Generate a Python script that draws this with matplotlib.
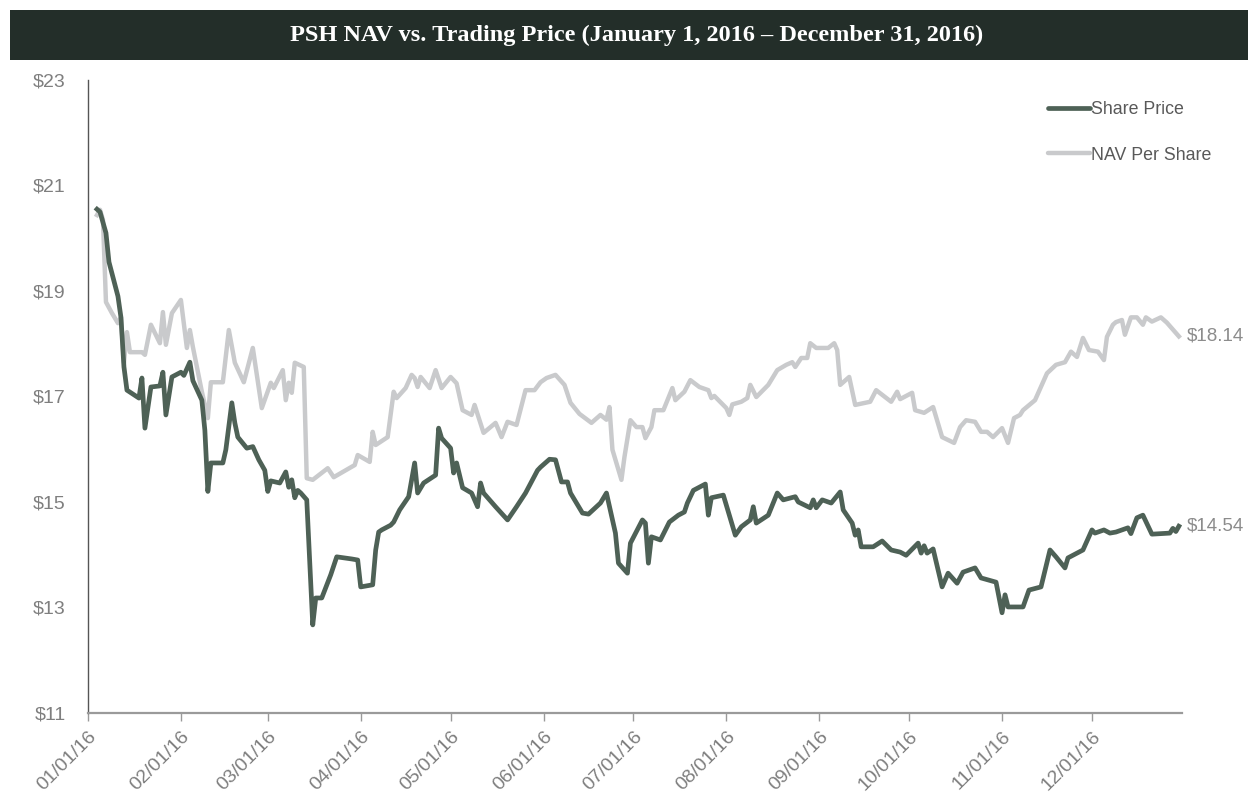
import matplotlib.pyplot as plt
import matplotlib.dates as mdates
import pandas as pd
from matplotlib.patches import Rectangle

plt.rcParams["font.family"] = ["Liberation Sans", "DejaVu Sans"]

# values
price_dates = [
    "01-04", "01-05", "01-07", "01-08", "01-11", "01-12", "01-13", "01-14", "01-18", "01-19",
    "01-20", "01-22", "01-25", "01-26", "01-27", "01-29", "02-01", "02-02", "02-04", "02-05",
    "02-08", "02-09", "02-10", "02-11", "02-15", "02-16", "02-18", "02-19", "02-20", "02-23",
    "02-25", "02-27", "02-29", "03-01", "03-02", "03-05", "03-07", "03-08", "03-09", "03-10",
    "03-11", "03-12", "03-14", "03-15", "03-16", "03-17", "03-19", "03-22", "03-24", "03-29",
    "03-31", "04-01", "04-05", "04-06", "04-07", "04-08", "04-11", "04-12", "04-14", "04-17",
    "04-19", "04-20", "04-22", "04-26", "04-27", "04-28", "05-01", "05-02", "05-03", "05-05",
    "05-08", "05-10", "05-11", "05-12", "05-16", "05-20", "05-23", "05-26", "05-30", "05-31",
    "06-03", "06-05", "06-07", "06-09", "06-10", "06-14", "06-16", "06-20", "06-22", "06-25",
    "06-26", "06-29", "06-30", "07-04", "07-05", "07-06", "07-07", "07-10", "07-13", "07-16",
    "07-18", "07-19", "07-21", "07-25", "07-26", "07-27", "07-31", "08-04", "08-06", "08-09",
    "08-10", "08-11", "08-15", "08-18", "08-20", "08-24", "08-25", "08-29", "08-30", "08-31",
    "09-02", "09-05", "09-08", "09-09", "09-12", "09-13", "09-14", "09-15", "09-19", "09-22",
    "09-25", "09-28", "09-30", "10-04", "10-05", "10-06", "10-07", "10-09", "10-12", "10-14",
    "10-17", "10-19", "10-23", "10-25", "10-30", "11-01", "11-02", "11-03", "11-08", "11-10",
    "11-14", "11-17", "11-19", "11-22", "11-23", "11-28", "12-01", "12-02", "12-05", "12-07",
    "12-09", "12-13", "12-14", "12-16", "12-18", "12-21", "12-27", "12-28", "12-29", "12-30",
]
share_price = [
    20.55, 20.50, 20.10, 19.55, 18.90, 18.50, 17.56, 17.12, 16.97, 17.35,
    16.40, 17.18, 17.20, 17.46, 16.65, 17.37, 17.46, 17.40, 17.65, 17.30,
    16.93, 16.36, 15.20, 15.74, 15.74, 15.99, 16.88, 16.50, 16.23, 16.02,
    16.05, 15.80, 15.60, 15.20, 15.40, 15.36, 15.57, 15.28, 15.42, 15.08,
    15.22, 15.17, 15.04, 13.84, 12.67, 13.18, 13.18, 13.62, 13.96, 13.92,
    13.90, 13.39, 13.43, 14.09, 14.43, 14.47, 14.56, 14.62, 14.85, 15.10,
    15.74, 15.17, 15.36, 15.51, 16.40, 16.21, 16.02, 15.55, 15.74, 15.27,
    15.17, 14.91, 15.36, 15.17, 14.91, 14.66, 14.91, 15.17, 15.60, 15.66,
    15.81, 15.80, 15.38, 15.38, 15.17, 14.79, 14.77, 14.98, 15.17, 14.41,
    13.84, 13.65, 14.22, 14.66, 14.60, 13.84, 14.34, 14.28, 14.62, 14.75,
    14.81, 14.98, 15.22, 15.34, 14.75, 15.08, 15.13, 14.37, 14.53, 14.66,
    14.91, 14.60, 14.75, 15.17, 15.04, 15.10, 15.00, 14.89, 15.04, 14.89,
    15.04, 14.98, 15.19, 14.85, 14.60, 14.37, 14.47, 14.15, 14.15, 14.26,
    14.09, 14.05, 13.99, 14.22, 14.03, 14.17, 14.03, 14.11, 13.39, 13.65,
    13.46, 13.67, 13.75, 13.56, 13.48, 12.90, 13.24, 13.01, 13.01, 13.33,
    13.39, 14.09, 13.96, 13.75, 13.94, 14.09, 14.47, 14.41, 14.47, 14.41,
    14.43, 14.51, 14.40, 14.70, 14.75, 14.39, 14.41, 14.50, 14.44, 14.54,
]

nav_dates = [
    "01-04", "01-05", "01-06", "01-07", "01-09", "01-11", "01-12", "01-13", "01-14", "01-15",
    "01-19", "01-20", "01-22", "01-25", "01-26", "01-27", "01-29", "02-01", "02-03", "02-04",
    "02-05", "02-08", "02-10", "02-11", "02-15", "02-17", "02-19", "02-22", "02-25", "02-28",
    "03-02", "03-03", "03-06", "03-07", "03-08", "03-09", "03-10", "03-13", "03-14", "03-16",
    "03-21", "03-23", "03-30", "03-31", "04-04", "04-05", "04-06", "04-10", "04-12", "04-13",
    "04-16", "04-18", "04-19", "04-20", "04-21", "04-24", "04-26", "04-28", "05-01", "05-03",
    "05-05", "05-08", "05-09", "05-12", "05-16", "05-18", "05-20", "05-23", "05-26", "05-29",
    "05-31", "06-02", "06-05", "06-08", "06-10", "06-13", "06-17", "06-20", "06-22", "06-23",
    "06-24", "06-27", "06-28", "06-30", "07-02", "07-04", "07-05", "07-07", "07-08", "07-11",
    "07-14", "07-15", "07-18", "07-20", "07-23", "07-26", "07-27", "07-28", "08-01", "08-02",
    "08-03", "08-06", "08-08", "08-09", "08-11", "08-15", "08-18", "08-21", "08-23", "08-24",
    "08-26", "08-28", "08-29", "08-31", "09-04", "09-06", "09-07", "09-08", "09-11", "09-13",
    "09-18", "09-20", "09-25", "09-27", "09-28", "10-02", "10-03", "10-06", "10-09", "10-11",
    "10-12", "10-16", "10-18", "10-20", "10-23", "10-25", "10-27", "10-29", "11-01", "11-03",
    "11-05", "11-07", "11-08", "11-12", "11-16", "11-19", "11-22", "11-23", "11-24", "11-26",
    "11-28", "11-30", "12-03", "12-05", "12-06", "12-08", "12-09", "12-11", "12-12", "12-14",
    "12-16", "12-18", "12-19", "12-21", "12-24", "12-26", "12-30",
]
nav_per_share = [
    20.44, 20.54, 20.35, 18.79, 18.58, 18.39, 18.50, 17.64, 18.22, 17.84,
    17.84, 17.79, 18.36, 18.01, 18.60, 17.98, 18.58, 18.83, 17.92, 18.26,
    17.94, 17.09, 16.59, 17.27, 17.27, 18.26, 17.64, 17.27, 17.92, 16.78,
    17.26, 17.16, 17.50, 16.93, 17.26, 17.07, 17.64, 17.56, 15.45, 15.42,
    15.64, 15.47, 15.70, 15.89, 15.76, 16.33, 16.08, 16.23, 17.09, 16.97,
    17.16, 17.41, 17.35, 17.18, 17.37, 17.16, 17.50, 17.16, 17.37, 17.25,
    16.74, 16.65, 16.84, 16.31, 16.50, 16.23, 16.52, 16.46, 17.12, 17.12,
    17.27, 17.35, 17.41, 17.22, 16.88, 16.67, 16.50, 16.65, 16.56, 16.80,
    15.99, 15.42, 15.85, 16.55, 16.42, 16.42, 16.21, 16.42, 16.74, 16.74,
    17.16, 16.93, 17.09, 17.31, 17.18, 17.12, 16.97, 17.01, 16.78, 16.65,
    16.85, 16.90, 16.97, 17.22, 16.99, 17.22, 17.50, 17.60, 17.65, 17.56,
    17.73, 17.73, 18.01, 17.92, 17.92, 18.01, 17.88, 17.22, 17.37, 16.84,
    16.90, 17.12, 16.90, 17.09, 16.95, 17.07, 16.74, 16.69, 16.80, 16.42,
    16.23, 16.12, 16.42, 16.55, 16.52, 16.33, 16.33, 16.23, 16.40, 16.12,
    16.59, 16.65, 16.74, 16.93, 17.44, 17.60, 17.65, 17.75, 17.85, 17.75,
    18.11, 17.88, 17.85, 17.69, 18.13, 18.36, 18.41, 18.45, 18.17, 18.50,
    18.50, 18.36, 18.50, 18.42, 18.50, 18.40, 18.14,
]

y_ticks = [11, 13, 15, 17, 19, 21, 23]
title = "PSH NAV vs. Trading Price (January 1, 2016 \u2013 December 31, 2016)"

price_x = pd.to_datetime(["2016-" + d for d in price_dates])
nav_x = pd.to_datetime(["2016-" + d for d in nav_dates])

PRICE_COLOR = "#4E6156"
NAV_COLOR = "#C9CACC"
TICK_COLOR = "#7F7F7F"

fig = plt.figure(figsize=(12.48, 7.96), dpi=100)
fig.patch.set_facecolor("white")

# title band
fig.patches.append(Rectangle((0.008, 0.9246), 0.992, 0.0628, transform=fig.transFigure,
                             facecolor="#232E29", edgecolor="none", zorder=0))
fig.text(0.51, 0.956, title, ha="center", va="center", color="white",
         fontsize=17.5, fontweight="bold", family=["Liberation Serif", "DejaVu Serif"])

ax = fig.add_axes([0.0705, 0.1043, 0.8765, 0.7952])

ax.plot(nav_x, nav_per_share, color=NAV_COLOR, lw=3.2, label="NAV Per Share", zorder=2)
ax.plot(price_x, share_price, color=PRICE_COLOR, lw=3.4, label="Share Price", zorder=3)

end_day = pd.Timestamp("2016-12-31") + pd.Timedelta(days=1.5)
ax.text(end_day, nav_per_share[-1], f"${nav_per_share[-1]:.2f}", color="#8C8C8C",
        fontsize=13.5, va="center", ha="left", clip_on=False)
ax.text(end_day, share_price[-1], f"${share_price[-1]:.2f}", color="#8C8C8C",
        fontsize=13.5, va="center", ha="left", clip_on=False)

ax.set_xlim(pd.Timestamp("2016-01-01"), pd.Timestamp("2016-12-31"))
ax.set_ylim(11, 23)
ax.set_yticks(y_ticks)
ax.set_yticklabels([f"${v}" for v in y_ticks])

ax.xaxis.set_major_locator(mdates.MonthLocator())
ax.xaxis.set_major_formatter(mdates.DateFormatter("%m/%d/%y"))
plt.setp(ax.get_xticklabels(), rotation=45, ha="right", rotation_mode="anchor")

for spine in ["top", "right"]:
    ax.spines[spine].set_visible(False)
ax.spines["left"].set_color("#555555")
ax.spines["left"].set_linewidth(1.0)
ax.spines["bottom"].set_color("#9A9A9A")
ax.spines["bottom"].set_linewidth(1.6)
ax.tick_params(axis="y", length=0, labelsize=14, labelcolor=TICK_COLOR, pad=16)
ax.tick_params(axis="x", length=6, width=1.0, color="#9A9A9A", labelsize=14,
               labelcolor=TICK_COLOR, pad=5)

handles, labels = ax.get_legend_handles_labels()
leg = ax.legend(handles[::-1], labels[::-1], loc="upper left", bbox_to_anchor=(0.8775, 0.967),
                frameon=False, fontsize=12.8, handlelength=2.35, handletextpad=0.08,
                labelspacing=1.62, borderpad=0, borderaxespad=0, labelcolor="#595959")
for line in leg.get_lines():
    line.set_solid_capstyle("round")

fig.savefig("out.png", dpi=100, facecolor="white")
